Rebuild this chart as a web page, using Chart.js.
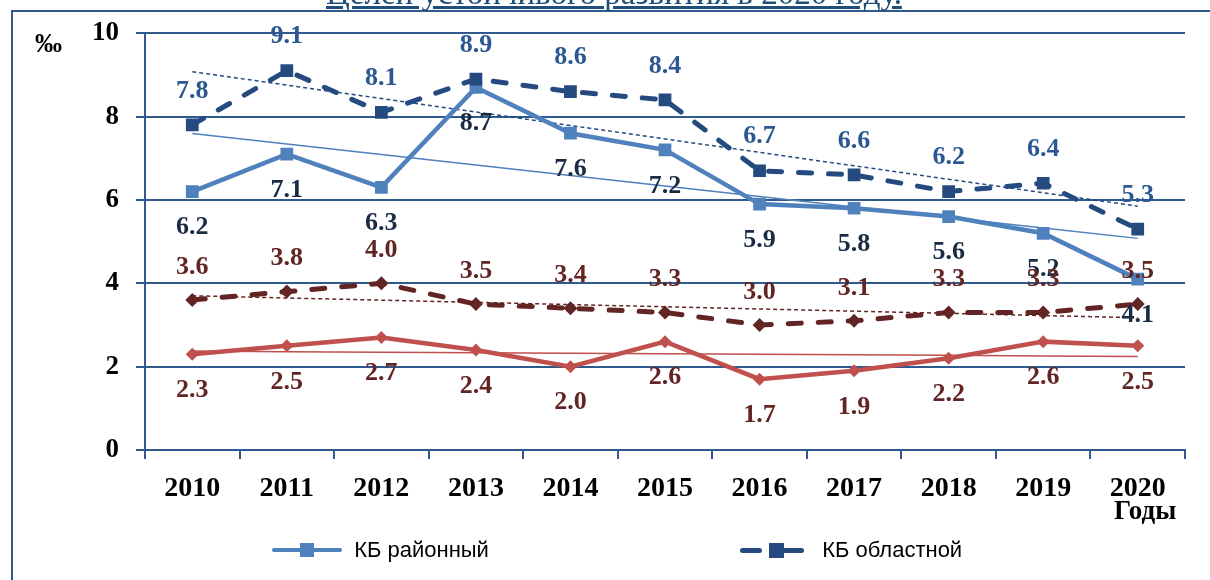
<!DOCTYPE html>
<html>
<head>
<meta charset="utf-8">
<script src="https://cdn.jsdelivr.net/npm/chart.js@4/dist/chart.umd.min.js"></script>
<style>
  body { margin: 0; background: #fff; overflow: hidden; }
  #wrap { position: relative; width: 1210px; height: 580px; overflow: hidden; }
  .fline { position: absolute; background: #2E5A8E; }
  #title { position: absolute; left: 326px; top: -23px; font: 33px/33px "Liberation Serif", serif;
    color: #1F4E79; text-decoration: underline; white-space: nowrap; }
  .note { position: absolute; font: bold 27px "Liberation Serif", serif; color: #000; }
  .leg { position: absolute; top: 536px; font: 22px "Liberation Sans", sans-serif; color: #000; }
  .leg span { display: inline-block; vertical-align: middle; }
</style>
</head>
<body>
<div id="wrap">
  <div class="fline" style="left:11px; top:10px; width:1199px; height:2px;"></div>
  <div class="fline" style="left:11px; top:10px; width:2px; height:570px;"></div>
  <div id="title">Целей устойчивого развития в 2020 году.</div>
  <canvas id="grafico"></canvas>
  <div class="note" style="left:35px; top:28px;">‰</div>
  <div class="note" style="left:1114px; top:495px;">Годы</div>
  <div class="leg" style="left:272px;">
    <span style="position:relative; width:70px; height:14px;">
      <span style="position:absolute; left:0; top:5px; width:70px; height:4px; background:#4F81BD; border-radius:2px;"></span>
      <span style="position:absolute; left:28px; top:0; width:14px; height:14px; background:#4F81BD;"></span>
    </span>
    <span style="margin-left:6px;">КБ районный</span>
  </div>
  <div class="leg" style="left:740px;">
    <span style="position:relative; width:64px; height:14px;">
      <span style="position:absolute; left:0; top:5px; width:22px; height:5px; background:#254A80; border-radius:3px;"></span>
      <span style="position:absolute; left:29px; top:0; width:15px; height:15px; background:#254A80;"></span>
      <span style="position:absolute; left:40px; top:5px; width:24px; height:5px; background:#254A80; border-radius:3px;"></span>
    </span>
    <span style="margin-left:12px;">КБ областной</span>
  </div>
</div>
<script>
const anos = ['2010', '2011', '2012', '2013', '2014', '2015', '2016', '2017', '2018', '2019', '2020'];
const kbRaion = [6.2, 7.1, 6.3, 8.7, 7.6, 7.2, 5.9, 5.8, 5.6, 5.2, 4.1];
const kbOblast = [7.8, 9.1, 8.1, 8.9, 8.6, 8.4, 6.7, 6.6, 6.2, 6.4, 5.3];
const serieVermelhaEscura = [3.6, 3.8, 4.0, 3.5, 3.4, 3.3, 3.0, 3.1, 3.3, 3.3, 3.5];
const serieVermelha = [2.3, 2.5, 2.7, 2.4, 2.0, 2.6, 1.7, 1.9, 2.2, 2.6, 2.5];
const yTicks = [0, 2, 4, 6, 8, 10];

// linear trend (least squares), like the Excel trendline
const tendencia = (vals) => {
  const n = vals.length;
  const mx = (n - 1) / 2;
  const my = vals.reduce((a, b) => a + b, 0) / n;
  let sxy = 0;
  let sxx = 0;
  vals.forEach((v, i) => {
    sxy += (i - mx) * (v - my);
    sxx += (i - mx) * (i - mx);
  });
  const k = sxy / sxx;
  return vals.map((v, i) => my + k * (i - mx));
};

const gridColor = '#2E5A8E';

const valueLabels = {
  id: 'valueLabels',
  afterDatasetsDraw(chart) {
    const ctx = chart.ctx;
    chart.data.datasets.forEach((ds, i) => {
      if (!ds.labelOffset) return;
      const meta = chart.getDatasetMeta(i);
      ctx.save();
      ctx.font = 'bold 26px "Liberation Serif"';
      ctx.fillStyle = ds.labelColor;
      ctx.textAlign = 'center';
      ctx.textBaseline = 'middle';
      meta.data.forEach((pt, j) => {
        ctx.fillText(ds.data[j].toFixed(1), pt.x, pt.y + ds.labelOffset);
      });
      ctx.restore();
    });
  },
};

const trendSet = (vals, color, dash) => ({
  data: tendencia(vals),
  borderColor: color,
  borderWidth: 1.5,
  borderDash: dash,
  pointRadius: 0,
  tension: 0,
  order: 5,
});

const ctx = document.getElementById('grafico');
new Chart(ctx, {
  type: 'line',
  data: {
    labels: anos,
    datasets: [
      {
        label: 'КБ районный',
        data: kbRaion,
        borderColor: '#4F81BD',
        backgroundColor: '#4F81BD',
        borderWidth: 4.5,
        pointStyle: 'rect',
        pointRadius: 9,
        pointBorderWidth: 0,
        order: 1,
        labelOffset: 36,
        labelColor: '#1B2B45',
      },
      {
        label: 'КБ областной',
        data: kbOblast,
        borderColor: '#254A80',
        backgroundColor: '#254A80',
        borderWidth: 5,
        borderDash: [13, 17],
        borderCapStyle: 'round',
        pointStyle: 'rect',
        pointRadius: 9,
        pointBorderWidth: 0,
        order: 0,
        labelOffset: -34,
        labelColor: '#2B5893',
      },
      {
        label: 'serie3',
        data: serieVermelhaEscura,
        borderColor: '#632523',
        backgroundColor: '#632523',
        borderWidth: 5,
        borderDash: [13, 17],
        borderCapStyle: 'round',
        pointStyle: 'rectRot',
        pointRadius: 7,
        pointBorderWidth: 0,
        order: 2,
        labelOffset: -33,
        labelColor: '#632523',
      },
      {
        label: 'serie4',
        data: serieVermelha,
        borderColor: '#C0504D',
        backgroundColor: '#C0504D',
        borderWidth: 4.5,
        pointStyle: 'rectRot',
        pointRadius: 6.5,
        pointBorderWidth: 0,
        order: 3,
        labelOffset: 36,
        labelColor: '#632523',
      },
      trendSet(kbRaion, '#4F81BD', []),
      trendSet(kbOblast, '#254A80', [4, 3]),
      trendSet(serieVermelhaEscura, '#632523', [4, 3]),
      trendSet(serieVermelha, '#C0504D', []),
    ],
  },
  options: {
    responsive: true,
    maintainAspectRatio: false,
    animation: false,
    layout: { padding: { top: 33, right: 25, left: 0, bottom: 0 } },
    plugins: {
      legend: { display: false },
      tooltip: { enabled: false },
    },
    scales: {
      x: {
        offset: true,
        afterFit: (scale) => { scale.height = 130; },
        grid: {
          offset: true,
          drawOnChartArea: false,
          drawTicks: true,
          tickLength: 9,
          color: gridColor,
          lineWidth: 2,
        },
        border: { color: gridColor, width: 2 },
        ticks: {
          color: '#000',
          padding: 13,
          font: { family: 'Liberation Serif', size: 28, weight: 'bold' },
        },
      },
      y: {
        min: 0,
        max: 10,
        afterFit: (scale) => { scale.width = 145; },
        afterBuildTicks: (scale) => { scale.ticks = yTicks.map((v) => ({ value: v })); },
        grid: { color: gridColor, lineWidth: 2, tickLength: 9 },
        border: { color: gridColor, width: 2 },
        ticks: {
          color: '#000',
          padding: 17,
          font: { family: 'Liberation Serif', size: 27, weight: 'bold' },
        },
      },
    },
  },
  plugins: [valueLabels],
});
</script>
</body>
</html>
